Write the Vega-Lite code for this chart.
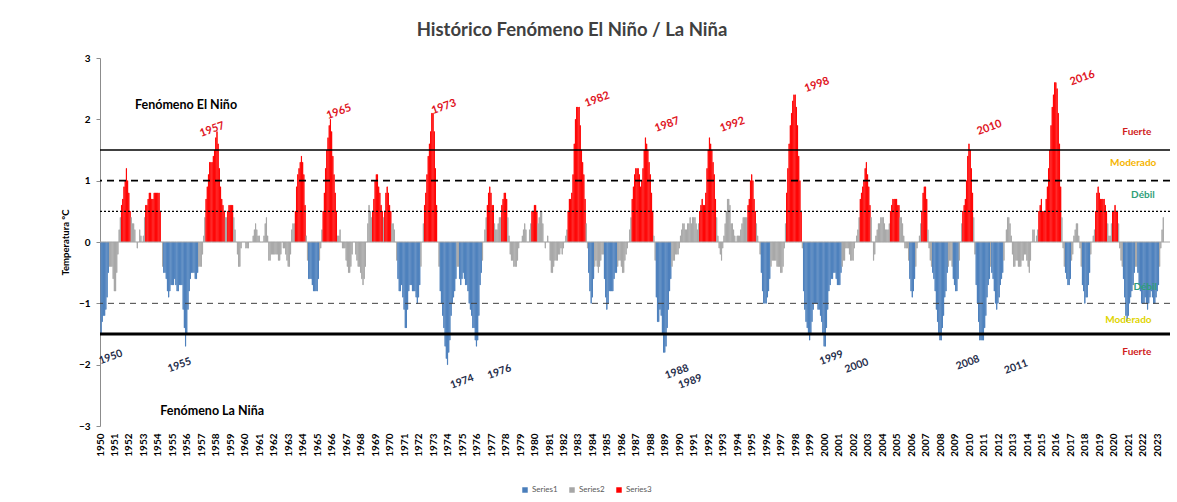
{
"$schema": "https://vega.github.io/schema/vega-lite/v6.json",
"width": 1070, "height": 368,
"autosize": {"type": "none"},
"padding": {"left": 100, "top": 58, "right": 7, "bottom": 76},
"background": "#ffffff",
"config": {"view": {"stroke": null}, "font": "Lato"},
"title": {"text": "Histórico Fenómeno El Niño / La Niña", "fontSize": 18.5, "fontWeight": "bold", "color": "#404040", "font": "Lato", "anchor": "middle", "frame": "group", "offset": 14, "dx": -63},
"datasets": {
"oni": [
{"t":"1950-01","v":-1.5,"s":1},{"t":"1950-02","v":-1.3,"s":1},{"t":"1950-03","v":-1.2,"s":1},{"t":"1950-04","v":-1.2,"s":1},{"t":"1950-05","v":-1.1,"s":1},{"t":"1950-06","v":-0.9,"s":1},{"t":"1950-07","v":-0.5,"s":1},{"t":"1950-08","v":-0.4,"s":2},{"t":"1950-09","v":-0.4,"s":2},{"t":"1950-10","v":-0.4,"s":2},{"t":"1950-11","v":-0.6,"s":2},{"t":"1950-12","v":-0.8,"s":2},
{"t":"1951-01","v":-0.8,"s":2},{"t":"1951-02","v":-0.5,"s":2},{"t":"1951-03","v":-0.2,"s":2},{"t":"1951-04","v":0.2,"s":2},{"t":"1951-05","v":0.4,"s":2},{"t":"1951-06","v":0.6,"s":3},{"t":"1951-07","v":0.7,"s":3},{"t":"1951-08","v":0.9,"s":3},{"t":"1951-09","v":1.0,"s":3},{"t":"1951-10","v":1.2,"s":3},{"t":"1951-11","v":1.0,"s":3},{"t":"1951-12","v":0.8,"s":3},
{"t":"1952-01","v":0.5,"s":3},{"t":"1952-02","v":0.4,"s":2},{"t":"1952-03","v":0.3,"s":2},{"t":"1952-04","v":0.3,"s":2},{"t":"1952-05","v":0.2,"s":2},{"t":"1952-06","v":0,"s":2},{"t":"1952-07","v":-0.1,"s":2},{"t":"1952-08","v":0,"s":2},{"t":"1952-09","v":0.2,"s":2},{"t":"1952-10","v":0.1,"s":2},{"t":"1952-11","v":0,"s":2},{"t":"1952-12","v":0.1,"s":2},
{"t":"1953-01","v":0.4,"s":2},{"t":"1953-02","v":0.6,"s":3},{"t":"1953-03","v":0.6,"s":3},{"t":"1953-04","v":0.7,"s":3},{"t":"1953-05","v":0.8,"s":3},{"t":"1953-06","v":0.8,"s":3},{"t":"1953-07","v":0.7,"s":3},{"t":"1953-08","v":0.7,"s":3},{"t":"1953-09","v":0.8,"s":3},{"t":"1953-10","v":0.8,"s":3},{"t":"1953-11","v":0.8,"s":3},{"t":"1953-12","v":0.8,"s":3},
{"t":"1954-01","v":0.8,"s":3},{"t":"1954-02","v":0.5,"s":3},{"t":"1954-03","v":0,"s":2},{"t":"1954-04","v":-0.4,"s":2},{"t":"1954-05","v":-0.5,"s":1},{"t":"1954-06","v":-0.5,"s":1},{"t":"1954-07","v":-0.6,"s":1},{"t":"1954-08","v":-0.8,"s":1},{"t":"1954-09","v":-0.9,"s":1},{"t":"1954-10","v":-0.8,"s":1},{"t":"1954-11","v":-0.7,"s":1},{"t":"1954-12","v":-0.7,"s":1},
{"t":"1955-01","v":-0.7,"s":1},{"t":"1955-02","v":-0.6,"s":1},{"t":"1955-03","v":-0.7,"s":1},{"t":"1955-04","v":-0.8,"s":1},{"t":"1955-05","v":-0.8,"s":1},{"t":"1955-06","v":-0.7,"s":1},{"t":"1955-07","v":-0.7,"s":1},{"t":"1955-08","v":-0.7,"s":1},{"t":"1955-09","v":-1.1,"s":1},{"t":"1955-10","v":-1.4,"s":1},{"t":"1955-11","v":-1.7,"s":1},{"t":"1955-12","v":-1.5,"s":1},
{"t":"1956-01","v":-1.1,"s":1},{"t":"1956-02","v":-0.8,"s":1},{"t":"1956-03","v":-0.6,"s":1},{"t":"1956-04","v":-0.5,"s":1},{"t":"1956-05","v":-0.5,"s":1},{"t":"1956-06","v":-0.5,"s":1},{"t":"1956-07","v":-0.6,"s":1},{"t":"1956-08","v":-0.6,"s":1},{"t":"1956-09","v":-0.5,"s":1},{"t":"1956-10","v":-0.4,"s":2},{"t":"1956-11","v":-0.4,"s":2},{"t":"1956-12","v":-0.4,"s":2},
{"t":"1957-01","v":-0.2,"s":2},{"t":"1957-02","v":0.1,"s":2},{"t":"1957-03","v":0.4,"s":2},{"t":"1957-04","v":0.7,"s":3},{"t":"1957-05","v":0.9,"s":3},{"t":"1957-06","v":1.1,"s":3},{"t":"1957-07","v":1.3,"s":3},{"t":"1957-08","v":1.3,"s":3},{"t":"1957-09","v":1.3,"s":3},{"t":"1957-10","v":1.4,"s":3},{"t":"1957-11","v":1.5,"s":3},{"t":"1957-12","v":1.7,"s":3},
{"t":"1958-01","v":1.8,"s":3},{"t":"1958-02","v":1.6,"s":3},{"t":"1958-03","v":1.2,"s":3},{"t":"1958-04","v":0.9,"s":3},{"t":"1958-05","v":0.7,"s":3},{"t":"1958-06","v":0.6,"s":3},{"t":"1958-07","v":0.5,"s":3},{"t":"1958-08","v":0.4,"s":2},{"t":"1958-09","v":0.4,"s":2},{"t":"1958-10","v":0.5,"s":3},{"t":"1958-11","v":0.6,"s":3},{"t":"1958-12","v":0.6,"s":3},
{"t":"1959-01","v":0.6,"s":3},{"t":"1959-02","v":0.6,"s":3},{"t":"1959-03","v":0.4,"s":2},{"t":"1959-04","v":0.2,"s":2},{"t":"1959-05","v":0,"s":2},{"t":"1959-06","v":-0.2,"s":2},{"t":"1959-07","v":-0.4,"s":2},{"t":"1959-08","v":-0.4,"s":2},{"t":"1959-09","v":-0.1,"s":2},{"t":"1959-10","v":0,"s":2},{"t":"1959-11","v":0,"s":2},{"t":"1959-12","v":0,"s":2},
{"t":"1960-01","v":-0.1,"s":2},{"t":"1960-02","v":-0.1,"s":2},{"t":"1960-03","v":-0.1,"s":2},{"t":"1960-04","v":0,"s":2},{"t":"1960-05","v":0,"s":2},{"t":"1960-06","v":0,"s":2},{"t":"1960-07","v":0.1,"s":2},{"t":"1960-08","v":0.2,"s":2},{"t":"1960-09","v":0.3,"s":2},{"t":"1960-10","v":0.2,"s":2},{"t":"1960-11","v":0.1,"s":2},{"t":"1960-12","v":0.1,"s":2},
{"t":"1961-01","v":0,"s":2},{"t":"1961-02","v":0,"s":2},{"t":"1961-03","v":0,"s":2},{"t":"1961-04","v":0.1,"s":2},{"t":"1961-05","v":0.3,"s":2},{"t":"1961-06","v":0.4,"s":2},{"t":"1961-07","v":0.1,"s":2},{"t":"1961-08","v":-0.3,"s":2},{"t":"1961-09","v":-0.3,"s":2},{"t":"1961-10","v":-0.2,"s":2},{"t":"1961-11","v":-0.2,"s":2},{"t":"1961-12","v":-0.2,"s":2},
{"t":"1962-01","v":-0.2,"s":2},{"t":"1962-02","v":-0.2,"s":2},{"t":"1962-03","v":-0.2,"s":2},{"t":"1962-04","v":-0.3,"s":2},{"t":"1962-05","v":-0.3,"s":2},{"t":"1962-06","v":-0.2,"s":2},{"t":"1962-07","v":0,"s":2},{"t":"1962-08","v":-0.1,"s":2},{"t":"1962-09","v":-0.1,"s":2},{"t":"1962-10","v":-0.2,"s":2},{"t":"1962-11","v":-0.3,"s":2},{"t":"1962-12","v":-0.4,"s":2},
{"t":"1963-01","v":-0.4,"s":2},{"t":"1963-02","v":-0.2,"s":2},{"t":"1963-03","v":0.2,"s":2},{"t":"1963-04","v":0.3,"s":2},{"t":"1963-05","v":0.3,"s":2},{"t":"1963-06","v":0.5,"s":3},{"t":"1963-07","v":0.9,"s":3},{"t":"1963-08","v":1.1,"s":3},{"t":"1963-09","v":1.2,"s":3},{"t":"1963-10","v":1.3,"s":3},{"t":"1963-11","v":1.4,"s":3},{"t":"1963-12","v":1.3,"s":3},
{"t":"1964-01","v":1.1,"s":3},{"t":"1964-02","v":0.6,"s":3},{"t":"1964-03","v":0.1,"s":2},{"t":"1964-04","v":-0.3,"s":2},{"t":"1964-05","v":-0.6,"s":1},{"t":"1964-06","v":-0.6,"s":1},{"t":"1964-07","v":-0.6,"s":1},{"t":"1964-08","v":-0.7,"s":1},{"t":"1964-09","v":-0.8,"s":1},{"t":"1964-10","v":-0.8,"s":1},{"t":"1964-11","v":-0.8,"s":1},{"t":"1964-12","v":-0.8,"s":1},
{"t":"1965-01","v":-0.6,"s":1},{"t":"1965-02","v":-0.3,"s":2},{"t":"1965-03","v":-0.1,"s":2},{"t":"1965-04","v":0.2,"s":2},{"t":"1965-05","v":0.5,"s":3},{"t":"1965-06","v":0.8,"s":3},{"t":"1965-07","v":1.2,"s":3},{"t":"1965-08","v":1.5,"s":3},{"t":"1965-09","v":1.7,"s":3},{"t":"1965-10","v":1.9,"s":3},{"t":"1965-11","v":2.0,"s":3},{"t":"1965-12","v":1.8,"s":3},
{"t":"1966-01","v":1.4,"s":3},{"t":"1966-02","v":1.1,"s":3},{"t":"1966-03","v":0.8,"s":3},{"t":"1966-04","v":0.5,"s":3},{"t":"1966-05","v":0.1,"s":2},{"t":"1966-06","v":0.1,"s":2},{"t":"1966-07","v":0.2,"s":2},{"t":"1966-08","v":0,"s":2},{"t":"1966-09","v":-0.1,"s":2},{"t":"1966-10","v":-0.1,"s":2},{"t":"1966-11","v":-0.1,"s":2},{"t":"1966-12","v":-0.3,"s":2},
{"t":"1967-01","v":-0.4,"s":2},{"t":"1967-02","v":-0.5,"s":2},{"t":"1967-03","v":-0.5,"s":2},{"t":"1967-04","v":-0.4,"s":2},{"t":"1967-05","v":-0.2,"s":2},{"t":"1967-06","v":0,"s":2},{"t":"1967-07","v":0,"s":2},{"t":"1967-08","v":-0.2,"s":2},{"t":"1967-09","v":-0.3,"s":2},{"t":"1967-10","v":-0.4,"s":2},{"t":"1967-11","v":-0.4,"s":2},{"t":"1967-12","v":-0.5,"s":2},
{"t":"1968-01","v":-0.6,"s":2},{"t":"1968-02","v":-0.7,"s":2},{"t":"1968-03","v":-0.6,"s":2},{"t":"1968-04","v":-0.4,"s":2},{"t":"1968-05","v":0,"s":2},{"t":"1968-06","v":0.3,"s":2},{"t":"1968-07","v":0.6,"s":2},{"t":"1968-08","v":0.5,"s":2},{"t":"1968-09","v":0.4,"s":2},{"t":"1968-10","v":0.5,"s":3},{"t":"1968-11","v":0.7,"s":3},{"t":"1968-12","v":1.0,"s":3},
{"t":"1969-01","v":1.1,"s":3},{"t":"1969-02","v":1.1,"s":3},{"t":"1969-03","v":0.9,"s":3},{"t":"1969-04","v":0.8,"s":3},{"t":"1969-05","v":0.6,"s":3},{"t":"1969-06","v":0.5,"s":3},{"t":"1969-07","v":0.4,"s":2},{"t":"1969-08","v":0.5,"s":3},{"t":"1969-09","v":0.8,"s":3},{"t":"1969-10","v":0.9,"s":3},{"t":"1969-11","v":0.8,"s":3},{"t":"1969-12","v":0.6,"s":3},
{"t":"1970-01","v":0.5,"s":3},{"t":"1970-02","v":0.3,"s":2},{"t":"1970-03","v":0.3,"s":2},{"t":"1970-04","v":0.2,"s":2},{"t":"1970-05","v":0,"s":2},{"t":"1970-06","v":-0.3,"s":2},{"t":"1970-07","v":-0.6,"s":1},{"t":"1970-08","v":-0.8,"s":1},{"t":"1970-09","v":-0.8,"s":1},{"t":"1970-10","v":-0.7,"s":1},{"t":"1970-11","v":-0.9,"s":1},{"t":"1970-12","v":-1.1,"s":1},
{"t":"1971-01","v":-1.4,"s":1},{"t":"1971-02","v":-1.4,"s":1},{"t":"1971-03","v":-1.1,"s":1},{"t":"1971-04","v":-0.8,"s":1},{"t":"1971-05","v":-0.7,"s":1},{"t":"1971-06","v":-0.7,"s":1},{"t":"1971-07","v":-0.8,"s":1},{"t":"1971-08","v":-0.8,"s":1},{"t":"1971-09","v":-0.8,"s":1},{"t":"1971-10","v":-0.9,"s":1},{"t":"1971-11","v":-1.0,"s":1},{"t":"1971-12","v":-0.9,"s":1},
{"t":"1972-01","v":-0.7,"s":1},{"t":"1972-02","v":-0.4,"s":2},{"t":"1972-03","v":0,"s":2},{"t":"1972-04","v":0.3,"s":2},{"t":"1972-05","v":0.6,"s":3},{"t":"1972-06","v":0.8,"s":3},{"t":"1972-07","v":1.1,"s":3},{"t":"1972-08","v":1.4,"s":3},{"t":"1972-09","v":1.6,"s":3},{"t":"1972-10","v":1.8,"s":3},{"t":"1972-11","v":2.1,"s":3},{"t":"1972-12","v":2.1,"s":3},
{"t":"1973-01","v":1.8,"s":3},{"t":"1973-02","v":1.2,"s":3},{"t":"1973-03","v":0.6,"s":3},{"t":"1973-04","v":0,"s":2},{"t":"1973-05","v":-0.4,"s":2},{"t":"1973-06","v":-0.8,"s":1},{"t":"1973-07","v":-1.0,"s":1},{"t":"1973-08","v":-1.2,"s":1},{"t":"1973-09","v":-1.4,"s":1},{"t":"1973-10","v":-1.7,"s":1},{"t":"1973-11","v":-1.9,"s":1},{"t":"1973-12","v":-2.0,"s":1},
{"t":"1974-01","v":-1.8,"s":1},{"t":"1974-02","v":-1.6,"s":1},{"t":"1974-03","v":-1.2,"s":1},{"t":"1974-04","v":-1.0,"s":1},{"t":"1974-05","v":-0.9,"s":1},{"t":"1974-06","v":-0.8,"s":1},{"t":"1974-07","v":-0.6,"s":1},{"t":"1974-08","v":-0.4,"s":2},{"t":"1974-09","v":-0.4,"s":2},{"t":"1974-10","v":-0.6,"s":1},{"t":"1974-11","v":-0.7,"s":1},{"t":"1974-12","v":-0.6,"s":1},
{"t":"1975-01","v":-0.5,"s":1},{"t":"1975-02","v":-0.6,"s":1},{"t":"1975-03","v":-0.7,"s":1},{"t":"1975-04","v":-0.7,"s":1},{"t":"1975-05","v":-0.8,"s":1},{"t":"1975-06","v":-1.0,"s":1},{"t":"1975-07","v":-1.1,"s":1},{"t":"1975-08","v":-1.2,"s":1},{"t":"1975-09","v":-1.4,"s":1},{"t":"1975-10","v":-1.4,"s":1},{"t":"1975-11","v":-1.6,"s":1},{"t":"1975-12","v":-1.7,"s":1},
{"t":"1976-01","v":-1.6,"s":1},{"t":"1976-02","v":-1.2,"s":1},{"t":"1976-03","v":-0.7,"s":1},{"t":"1976-04","v":-0.5,"s":1},{"t":"1976-05","v":-0.3,"s":2},{"t":"1976-06","v":0,"s":2},{"t":"1976-07","v":0.2,"s":2},{"t":"1976-08","v":0.4,"s":2},{"t":"1976-09","v":0.6,"s":3},{"t":"1976-10","v":0.8,"s":3},{"t":"1976-11","v":0.9,"s":3},{"t":"1976-12","v":0.8,"s":3},
{"t":"1977-01","v":0.6,"s":3},{"t":"1977-02","v":0.6,"s":3},{"t":"1977-03","v":0.3,"s":2},{"t":"1977-04","v":0.2,"s":2},{"t":"1977-05","v":0.2,"s":2},{"t":"1977-06","v":0.3,"s":2},{"t":"1977-07","v":0.4,"s":2},{"t":"1977-08","v":0.4,"s":2},{"t":"1977-09","v":0.6,"s":3},{"t":"1977-10","v":0.7,"s":3},{"t":"1977-11","v":0.8,"s":3},{"t":"1977-12","v":0.8,"s":3},
{"t":"1978-01","v":0.7,"s":3},{"t":"1978-02","v":0.4,"s":2},{"t":"1978-03","v":0.1,"s":2},{"t":"1978-04","v":-0.2,"s":2},{"t":"1978-05","v":-0.3,"s":2},{"t":"1978-06","v":-0.3,"s":2},{"t":"1978-07","v":-0.4,"s":2},{"t":"1978-08","v":-0.4,"s":2},{"t":"1978-09","v":-0.4,"s":2},{"t":"1978-10","v":-0.3,"s":2},{"t":"1978-11","v":-0.1,"s":2},{"t":"1978-12","v":0,"s":2},
{"t":"1979-01","v":0,"s":2},{"t":"1979-02","v":0.1,"s":2},{"t":"1979-03","v":0.2,"s":2},{"t":"1979-04","v":0.3,"s":2},{"t":"1979-05","v":0.2,"s":2},{"t":"1979-06","v":0,"s":2},{"t":"1979-07","v":0,"s":2},{"t":"1979-08","v":0.2,"s":2},{"t":"1979-09","v":0.3,"s":2},{"t":"1979-10","v":0.5,"s":3},{"t":"1979-11","v":0.5,"s":3},{"t":"1979-12","v":0.6,"s":3},
{"t":"1980-01","v":0.6,"s":3},{"t":"1980-02","v":0.5,"s":3},{"t":"1980-03","v":0.3,"s":2},{"t":"1980-04","v":0.4,"s":2},{"t":"1980-05","v":0.5,"s":2},{"t":"1980-06","v":0.5,"s":2},{"t":"1980-07","v":0.3,"s":2},{"t":"1980-08","v":0,"s":2},{"t":"1980-09","v":-0.1,"s":2},{"t":"1980-10","v":0,"s":2},{"t":"1980-11","v":0.1,"s":2},{"t":"1980-12","v":0,"s":2},
{"t":"1981-01","v":-0.3,"s":2},{"t":"1981-02","v":-0.5,"s":2},{"t":"1981-03","v":-0.5,"s":2},{"t":"1981-04","v":-0.4,"s":2},{"t":"1981-05","v":-0.3,"s":2},{"t":"1981-06","v":-0.3,"s":2},{"t":"1981-07","v":-0.3,"s":2},{"t":"1981-08","v":-0.2,"s":2},{"t":"1981-09","v":-0.2,"s":2},{"t":"1981-10","v":-0.1,"s":2},{"t":"1981-11","v":-0.2,"s":2},{"t":"1981-12","v":-0.1,"s":2},
{"t":"1982-01","v":0,"s":2},{"t":"1982-02","v":0.1,"s":2},{"t":"1982-03","v":0.2,"s":2},{"t":"1982-04","v":0.5,"s":3},{"t":"1982-05","v":0.7,"s":3},{"t":"1982-06","v":0.7,"s":3},{"t":"1982-07","v":0.8,"s":3},{"t":"1982-08","v":1.1,"s":3},{"t":"1982-09","v":1.6,"s":3},{"t":"1982-10","v":2.0,"s":3},{"t":"1982-11","v":2.2,"s":3},{"t":"1982-12","v":2.2,"s":3},
{"t":"1983-01","v":2.2,"s":3},{"t":"1983-02","v":1.9,"s":3},{"t":"1983-03","v":1.5,"s":3},{"t":"1983-04","v":1.3,"s":3},{"t":"1983-05","v":1.1,"s":3},{"t":"1983-06","v":0.7,"s":3},{"t":"1983-07","v":0.3,"s":2},{"t":"1983-08","v":-0.1,"s":2},{"t":"1983-09","v":-0.5,"s":1},{"t":"1983-10","v":-0.8,"s":1},{"t":"1983-11","v":-1.0,"s":1},{"t":"1983-12","v":-0.9,"s":1},
{"t":"1984-01","v":-0.6,"s":1},{"t":"1984-02","v":-0.4,"s":2},{"t":"1984-03","v":-0.3,"s":2},{"t":"1984-04","v":-0.4,"s":2},{"t":"1984-05","v":-0.5,"s":2},{"t":"1984-06","v":-0.4,"s":2},{"t":"1984-07","v":-0.3,"s":2},{"t":"1984-08","v":-0.2,"s":2},{"t":"1984-09","v":-0.2,"s":2},{"t":"1984-10","v":-0.6,"s":1},{"t":"1984-11","v":-0.9,"s":1},{"t":"1984-12","v":-1.1,"s":1},
{"t":"1985-01","v":-1.0,"s":1},{"t":"1985-02","v":-0.8,"s":1},{"t":"1985-03","v":-0.8,"s":1},{"t":"1985-04","v":-0.8,"s":1},{"t":"1985-05","v":-0.8,"s":1},{"t":"1985-06","v":-0.6,"s":1},{"t":"1985-07","v":-0.5,"s":1},{"t":"1985-08","v":-0.5,"s":1},{"t":"1985-09","v":-0.4,"s":2},{"t":"1985-10","v":-0.3,"s":2},{"t":"1985-11","v":-0.3,"s":2},{"t":"1985-12","v":-0.4,"s":2},
{"t":"1986-01","v":-0.5,"s":2},{"t":"1986-02","v":-0.5,"s":2},{"t":"1986-03","v":-0.3,"s":2},{"t":"1986-04","v":-0.2,"s":2},{"t":"1986-05","v":-0.1,"s":2},{"t":"1986-06","v":0,"s":2},{"t":"1986-07","v":0.2,"s":2},{"t":"1986-08","v":0.4,"s":2},{"t":"1986-09","v":0.7,"s":3},{"t":"1986-10","v":0.9,"s":3},{"t":"1986-11","v":1.1,"s":3},{"t":"1986-12","v":1.2,"s":3},
{"t":"1987-01","v":1.2,"s":3},{"t":"1987-02","v":1.2,"s":3},{"t":"1987-03","v":1.1,"s":3},{"t":"1987-04","v":0.9,"s":3},{"t":"1987-05","v":1.0,"s":3},{"t":"1987-06","v":1.2,"s":3},{"t":"1987-07","v":1.5,"s":3},{"t":"1987-08","v":1.7,"s":3},{"t":"1987-09","v":1.6,"s":3},{"t":"1987-10","v":1.5,"s":3},{"t":"1987-11","v":1.3,"s":3},{"t":"1987-12","v":1.1,"s":3},
{"t":"1988-01","v":0.8,"s":3},{"t":"1988-02","v":0.5,"s":3},{"t":"1988-03","v":0.1,"s":2},{"t":"1988-04","v":-0.3,"s":2},{"t":"1988-05","v":-0.9,"s":1},{"t":"1988-06","v":-1.3,"s":1},{"t":"1988-07","v":-1.3,"s":1},{"t":"1988-08","v":-1.1,"s":1},{"t":"1988-09","v":-1.2,"s":1},{"t":"1988-10","v":-1.5,"s":1},{"t":"1988-11","v":-1.8,"s":1},{"t":"1988-12","v":-1.8,"s":1},
{"t":"1989-01","v":-1.7,"s":1},{"t":"1989-02","v":-1.4,"s":1},{"t":"1989-03","v":-1.1,"s":1},{"t":"1989-04","v":-0.8,"s":1},{"t":"1989-05","v":-0.6,"s":1},{"t":"1989-06","v":-0.4,"s":2},{"t":"1989-07","v":-0.3,"s":2},{"t":"1989-08","v":-0.3,"s":2},{"t":"1989-09","v":-0.2,"s":2},{"t":"1989-10","v":-0.2,"s":2},{"t":"1989-11","v":-0.2,"s":2},{"t":"1989-12","v":-0.1,"s":2},
{"t":"1990-01","v":0.1,"s":2},{"t":"1990-02","v":0.2,"s":2},{"t":"1990-03","v":0.3,"s":2},{"t":"1990-04","v":0.3,"s":2},{"t":"1990-05","v":0.2,"s":2},{"t":"1990-06","v":0.2,"s":2},{"t":"1990-07","v":0.3,"s":2},{"t":"1990-08","v":0.3,"s":2},{"t":"1990-09","v":0.4,"s":2},{"t":"1990-10","v":0.3,"s":2},{"t":"1990-11","v":0.4,"s":2},{"t":"1990-12","v":0.4,"s":2},
{"t":"1991-01","v":0.4,"s":2},{"t":"1991-02","v":0.3,"s":2},{"t":"1991-03","v":0.2,"s":2},{"t":"1991-04","v":0.3,"s":2},{"t":"1991-05","v":0.5,"s":3},{"t":"1991-06","v":0.6,"s":3},{"t":"1991-07","v":0.7,"s":3},{"t":"1991-08","v":0.6,"s":3},{"t":"1991-09","v":0.6,"s":3},{"t":"1991-10","v":0.8,"s":3},{"t":"1991-11","v":1.2,"s":3},{"t":"1991-12","v":1.5,"s":3},
{"t":"1992-01","v":1.7,"s":3},{"t":"1992-02","v":1.6,"s":3},{"t":"1992-03","v":1.5,"s":3},{"t":"1992-04","v":1.3,"s":3},{"t":"1992-05","v":1.1,"s":3},{"t":"1992-06","v":0.7,"s":3},{"t":"1992-07","v":0.4,"s":2},{"t":"1992-08","v":0.1,"s":2},{"t":"1992-09","v":-0.1,"s":2},{"t":"1992-10","v":-0.2,"s":2},{"t":"1992-11","v":-0.3,"s":2},{"t":"1992-12","v":-0.1,"s":2},
{"t":"1993-01","v":0.1,"s":2},{"t":"1993-02","v":0.3,"s":2},{"t":"1993-03","v":0.5,"s":2},{"t":"1993-04","v":0.7,"s":2},{"t":"1993-05","v":0.7,"s":2},{"t":"1993-06","v":0.6,"s":2},{"t":"1993-07","v":0.3,"s":2},{"t":"1993-08","v":0.3,"s":2},{"t":"1993-09","v":0.2,"s":2},{"t":"1993-10","v":0.1,"s":2},{"t":"1993-11","v":0,"s":2},{"t":"1993-12","v":0.1,"s":2},
{"t":"1994-01","v":0.1,"s":2},{"t":"1994-02","v":0.1,"s":2},{"t":"1994-03","v":0.2,"s":2},{"t":"1994-04","v":0.3,"s":2},{"t":"1994-05","v":0.4,"s":2},{"t":"1994-06","v":0.4,"s":2},{"t":"1994-07","v":0.4,"s":2},{"t":"1994-08","v":0.4,"s":2},{"t":"1994-09","v":0.6,"s":3},{"t":"1994-10","v":0.7,"s":3},{"t":"1994-11","v":1.0,"s":3},{"t":"1994-12","v":1.1,"s":3},
{"t":"1995-01","v":1.0,"s":3},{"t":"1995-02","v":0.7,"s":3},{"t":"1995-03","v":0.5,"s":3},{"t":"1995-04","v":0.3,"s":2},{"t":"1995-05","v":0.1,"s":2},{"t":"1995-06","v":0,"s":2},{"t":"1995-07","v":-0.2,"s":2},{"t":"1995-08","v":-0.5,"s":1},{"t":"1995-09","v":-0.8,"s":1},{"t":"1995-10","v":-1.0,"s":1},{"t":"1995-11","v":-1.0,"s":1},{"t":"1995-12","v":-1.0,"s":1},
{"t":"1996-01","v":-0.9,"s":1},{"t":"1996-02","v":-0.8,"s":1},{"t":"1996-03","v":-0.6,"s":1},{"t":"1996-04","v":-0.4,"s":2},{"t":"1996-05","v":-0.3,"s":2},{"t":"1996-06","v":-0.3,"s":2},{"t":"1996-07","v":-0.3,"s":2},{"t":"1996-08","v":-0.3,"s":2},{"t":"1996-09","v":-0.4,"s":2},{"t":"1996-10","v":-0.4,"s":2},{"t":"1996-11","v":-0.4,"s":2},{"t":"1996-12","v":-0.5,"s":2},
{"t":"1997-01","v":-0.5,"s":2},{"t":"1997-02","v":-0.4,"s":2},{"t":"1997-03","v":-0.1,"s":2},{"t":"1997-04","v":0.3,"s":2},{"t":"1997-05","v":0.8,"s":3},{"t":"1997-06","v":1.2,"s":3},{"t":"1997-07","v":1.6,"s":3},{"t":"1997-08","v":1.9,"s":3},{"t":"1997-09","v":2.1,"s":3},{"t":"1997-10","v":2.3,"s":3},{"t":"1997-11","v":2.4,"s":3},{"t":"1997-12","v":2.4,"s":3},
{"t":"1998-01","v":2.2,"s":3},{"t":"1998-02","v":1.9,"s":3},{"t":"1998-03","v":1.4,"s":3},{"t":"1998-04","v":1.0,"s":3},{"t":"1998-05","v":0.5,"s":3},{"t":"1998-06","v":-0.1,"s":2},{"t":"1998-07","v":-0.8,"s":1},{"t":"1998-08","v":-1.1,"s":1},{"t":"1998-09","v":-1.3,"s":1},{"t":"1998-10","v":-1.4,"s":1},{"t":"1998-11","v":-1.5,"s":1},{"t":"1998-12","v":-1.6,"s":1},
{"t":"1999-01","v":-1.5,"s":1},{"t":"1999-02","v":-1.3,"s":1},{"t":"1999-03","v":-1.1,"s":1},{"t":"1999-04","v":-1.0,"s":1},{"t":"1999-05","v":-1.0,"s":1},{"t":"1999-06","v":-1.0,"s":1},{"t":"1999-07","v":-1.1,"s":1},{"t":"1999-08","v":-1.1,"s":1},{"t":"1999-09","v":-1.2,"s":1},{"t":"1999-10","v":-1.3,"s":1},{"t":"1999-11","v":-1.5,"s":1},{"t":"1999-12","v":-1.7,"s":1},
{"t":"2000-01","v":-1.7,"s":1},{"t":"2000-02","v":-1.4,"s":1},{"t":"2000-03","v":-1.1,"s":1},{"t":"2000-04","v":-0.8,"s":1},{"t":"2000-05","v":-0.7,"s":1},{"t":"2000-06","v":-0.6,"s":1},{"t":"2000-07","v":-0.6,"s":1},{"t":"2000-08","v":-0.5,"s":1},{"t":"2000-09","v":-0.5,"s":1},{"t":"2000-10","v":-0.6,"s":1},{"t":"2000-11","v":-0.7,"s":1},{"t":"2000-12","v":-0.7,"s":1},
{"t":"2001-01","v":-0.7,"s":1},{"t":"2001-02","v":-0.5,"s":1},{"t":"2001-03","v":-0.4,"s":2},{"t":"2001-04","v":-0.3,"s":2},{"t":"2001-05","v":-0.3,"s":2},{"t":"2001-06","v":-0.1,"s":2},{"t":"2001-07","v":-0.1,"s":2},{"t":"2001-08","v":-0.1,"s":2},{"t":"2001-09","v":-0.2,"s":2},{"t":"2001-10","v":-0.3,"s":2},{"t":"2001-11","v":-0.3,"s":2},{"t":"2001-12","v":-0.3,"s":2},
{"t":"2002-01","v":-0.1,"s":2},{"t":"2002-02","v":0,"s":2},{"t":"2002-03","v":0.1,"s":2},{"t":"2002-04","v":0.2,"s":2},{"t":"2002-05","v":0.4,"s":2},{"t":"2002-06","v":0.7,"s":3},{"t":"2002-07","v":0.8,"s":3},{"t":"2002-08","v":0.9,"s":3},{"t":"2002-09","v":1.0,"s":3},{"t":"2002-10","v":1.2,"s":3},{"t":"2002-11","v":1.3,"s":3},{"t":"2002-12","v":1.1,"s":3},
{"t":"2003-01","v":0.9,"s":3},{"t":"2003-02","v":0.6,"s":3},{"t":"2003-03","v":0.4,"s":2},{"t":"2003-04","v":0,"s":2},{"t":"2003-05","v":-0.3,"s":2},{"t":"2003-06","v":-0.2,"s":2},{"t":"2003-07","v":0.1,"s":2},{"t":"2003-08","v":0.2,"s":2},{"t":"2003-09","v":0.3,"s":2},{"t":"2003-10","v":0.3,"s":2},{"t":"2003-11","v":0.4,"s":2},{"t":"2003-12","v":0.4,"s":2},
{"t":"2004-01","v":0.4,"s":2},{"t":"2004-02","v":0.3,"s":2},{"t":"2004-03","v":0.2,"s":2},{"t":"2004-04","v":0.2,"s":2},{"t":"2004-05","v":0.2,"s":2},{"t":"2004-06","v":0.3,"s":2},{"t":"2004-07","v":0.5,"s":3},{"t":"2004-08","v":0.6,"s":3},{"t":"2004-09","v":0.7,"s":3},{"t":"2004-10","v":0.7,"s":3},{"t":"2004-11","v":0.7,"s":3},{"t":"2004-12","v":0.7,"s":3},
{"t":"2005-01","v":0.6,"s":3},{"t":"2005-02","v":0.6,"s":3},{"t":"2005-03","v":0.4,"s":2},{"t":"2005-04","v":0.4,"s":2},{"t":"2005-05","v":0.3,"s":2},{"t":"2005-06","v":0.1,"s":2},{"t":"2005-07","v":-0.1,"s":2},{"t":"2005-08","v":-0.1,"s":2},{"t":"2005-09","v":-0.1,"s":2},{"t":"2005-10","v":-0.3,"s":2},{"t":"2005-11","v":-0.6,"s":1},{"t":"2005-12","v":-0.8,"s":1},
{"t":"2006-01","v":-0.9,"s":1},{"t":"2006-02","v":-0.8,"s":1},{"t":"2006-03","v":-0.6,"s":1},{"t":"2006-04","v":-0.4,"s":2},{"t":"2006-05","v":-0.1,"s":2},{"t":"2006-06","v":0,"s":2},{"t":"2006-07","v":0.1,"s":2},{"t":"2006-08","v":0.3,"s":2},{"t":"2006-09","v":0.5,"s":3},{"t":"2006-10","v":0.8,"s":3},{"t":"2006-11","v":0.9,"s":3},{"t":"2006-12","v":0.9,"s":3},
{"t":"2007-01","v":0.7,"s":3},{"t":"2007-02","v":0.2,"s":2},{"t":"2007-03","v":-0.1,"s":2},{"t":"2007-04","v":-0.3,"s":2},{"t":"2007-05","v":-0.4,"s":2},{"t":"2007-06","v":-0.5,"s":1},{"t":"2007-07","v":-0.6,"s":1},{"t":"2007-08","v":-0.8,"s":1},{"t":"2007-09","v":-1.1,"s":1},{"t":"2007-10","v":-1.3,"s":1},{"t":"2007-11","v":-1.5,"s":1},{"t":"2007-12","v":-1.6,"s":1},
{"t":"2008-01","v":-1.6,"s":1},{"t":"2008-02","v":-1.4,"s":1},{"t":"2008-03","v":-1.2,"s":1},{"t":"2008-04","v":-0.9,"s":1},{"t":"2008-05","v":-0.8,"s":1},{"t":"2008-06","v":-0.5,"s":1},{"t":"2008-07","v":-0.4,"s":2},{"t":"2008-08","v":-0.3,"s":2},{"t":"2008-09","v":-0.3,"s":2},{"t":"2008-10","v":-0.4,"s":2},{"t":"2008-11","v":-0.6,"s":1},{"t":"2008-12","v":-0.7,"s":1},
{"t":"2009-01","v":-0.8,"s":1},{"t":"2009-02","v":-0.8,"s":1},{"t":"2009-03","v":-0.6,"s":1},{"t":"2009-04","v":-0.3,"s":2},{"t":"2009-05","v":0,"s":2},{"t":"2009-06","v":0.3,"s":2},{"t":"2009-07","v":0.5,"s":3},{"t":"2009-08","v":0.6,"s":3},{"t":"2009-09","v":0.7,"s":3},{"t":"2009-10","v":1.0,"s":3},{"t":"2009-11","v":1.4,"s":3},{"t":"2009-12","v":1.6,"s":3},
{"t":"2010-01","v":1.5,"s":3},{"t":"2010-02","v":1.2,"s":3},{"t":"2010-03","v":0.8,"s":3},{"t":"2010-04","v":0.4,"s":2},{"t":"2010-05","v":-0.2,"s":2},{"t":"2010-06","v":-0.7,"s":1},{"t":"2010-07","v":-1.0,"s":1},{"t":"2010-08","v":-1.3,"s":1},{"t":"2010-09","v":-1.6,"s":1},{"t":"2010-10","v":-1.6,"s":1},{"t":"2010-11","v":-1.6,"s":1},{"t":"2010-12","v":-1.6,"s":1},
{"t":"2011-01","v":-1.4,"s":1},{"t":"2011-02","v":-1.2,"s":1},{"t":"2011-03","v":-0.9,"s":1},{"t":"2011-04","v":-0.7,"s":1},{"t":"2011-05","v":-0.6,"s":1},{"t":"2011-06","v":-0.4,"s":2},{"t":"2011-07","v":-0.5,"s":1},{"t":"2011-08","v":-0.6,"s":1},{"t":"2011-09","v":-0.8,"s":1},{"t":"2011-10","v":-1.0,"s":1},{"t":"2011-11","v":-1.1,"s":1},{"t":"2011-12","v":-1.0,"s":1},
{"t":"2012-01","v":-0.9,"s":1},{"t":"2012-02","v":-0.7,"s":1},{"t":"2012-03","v":-0.6,"s":1},{"t":"2012-04","v":-0.5,"s":1},{"t":"2012-05","v":-0.3,"s":2},{"t":"2012-06","v":0,"s":2},{"t":"2012-07","v":0.2,"s":2},{"t":"2012-08","v":0.4,"s":2},{"t":"2012-09","v":0.4,"s":2},{"t":"2012-10","v":0.3,"s":2},{"t":"2012-11","v":0.1,"s":2},{"t":"2012-12","v":-0.2,"s":2},
{"t":"2013-01","v":-0.4,"s":2},{"t":"2013-02","v":-0.4,"s":2},{"t":"2013-03","v":-0.3,"s":2},{"t":"2013-04","v":-0.3,"s":2},{"t":"2013-05","v":-0.4,"s":2},{"t":"2013-06","v":-0.4,"s":2},{"t":"2013-07","v":-0.4,"s":2},{"t":"2013-08","v":-0.3,"s":2},{"t":"2013-09","v":-0.3,"s":2},{"t":"2013-10","v":-0.2,"s":2},{"t":"2013-11","v":-0.2,"s":2},{"t":"2013-12","v":-0.3,"s":2},
{"t":"2014-01","v":-0.4,"s":2},{"t":"2014-02","v":-0.5,"s":2},{"t":"2014-03","v":-0.3,"s":2},{"t":"2014-04","v":0,"s":2},{"t":"2014-05","v":0.2,"s":2},{"t":"2014-06","v":0.2,"s":2},{"t":"2014-07","v":0,"s":2},{"t":"2014-08","v":0.1,"s":2},{"t":"2014-09","v":0.2,"s":2},{"t":"2014-10","v":0.5,"s":3},{"t":"2014-11","v":0.6,"s":3},{"t":"2014-12","v":0.7,"s":3},
{"t":"2015-01","v":0.5,"s":3},{"t":"2015-02","v":0.5,"s":3},{"t":"2015-03","v":0.5,"s":3},{"t":"2015-04","v":0.7,"s":3},{"t":"2015-05","v":0.9,"s":3},{"t":"2015-06","v":1.2,"s":3},{"t":"2015-07","v":1.5,"s":3},{"t":"2015-08","v":1.9,"s":3},{"t":"2015-09","v":2.2,"s":3},{"t":"2015-10","v":2.4,"s":3},{"t":"2015-11","v":2.6,"s":3},{"t":"2015-12","v":2.6,"s":3},
{"t":"2016-01","v":2.5,"s":3},{"t":"2016-02","v":2.1,"s":3},{"t":"2016-03","v":1.6,"s":3},{"t":"2016-04","v":0.9,"s":3},{"t":"2016-05","v":0.4,"s":2},{"t":"2016-06","v":-0.1,"s":2},{"t":"2016-07","v":-0.4,"s":2},{"t":"2016-08","v":-0.5,"s":1},{"t":"2016-09","v":-0.6,"s":1},{"t":"2016-10","v":-0.7,"s":1},{"t":"2016-11","v":-0.7,"s":1},{"t":"2016-12","v":-0.6,"s":1},
{"t":"2017-01","v":-0.3,"s":2},{"t":"2017-02","v":-0.2,"s":2},{"t":"2017-03","v":0.1,"s":2},{"t":"2017-04","v":0.2,"s":2},{"t":"2017-05","v":0.3,"s":2},{"t":"2017-06","v":0.3,"s":2},{"t":"2017-07","v":0.1,"s":2},{"t":"2017-08","v":-0.1,"s":2},{"t":"2017-09","v":-0.4,"s":2},{"t":"2017-10","v":-0.7,"s":1},{"t":"2017-11","v":-0.8,"s":1},{"t":"2017-12","v":-1.0,"s":1},
{"t":"2018-01","v":-0.9,"s":1},{"t":"2018-02","v":-0.9,"s":1},{"t":"2018-03","v":-0.7,"s":1},{"t":"2018-04","v":-0.5,"s":1},{"t":"2018-05","v":-0.2,"s":2},{"t":"2018-06","v":0,"s":2},{"t":"2018-07","v":0.1,"s":2},{"t":"2018-08","v":0.2,"s":2},{"t":"2018-09","v":0.5,"s":3},{"t":"2018-10","v":0.8,"s":3},{"t":"2018-11","v":0.9,"s":3},{"t":"2018-12","v":0.8,"s":3},
{"t":"2019-01","v":0.7,"s":3},{"t":"2019-02","v":0.7,"s":3},{"t":"2019-03","v":0.7,"s":3},{"t":"2019-04","v":0.7,"s":3},{"t":"2019-05","v":0.6,"s":3},{"t":"2019-06","v":0.5,"s":3},{"t":"2019-07","v":0.3,"s":2},{"t":"2019-08","v":0.1,"s":2},{"t":"2019-09","v":0.1,"s":2},{"t":"2019-10","v":0.3,"s":2},{"t":"2019-11","v":0.5,"s":3},{"t":"2019-12","v":0.5,"s":3},
{"t":"2020-01","v":0.6,"s":3},{"t":"2020-02","v":0.5,"s":3},{"t":"2020-03","v":0.5,"s":3},{"t":"2020-04","v":0.3,"s":2},{"t":"2020-05","v":-0.1,"s":2},{"t":"2020-06","v":-0.3,"s":2},{"t":"2020-07","v":-0.4,"s":2},{"t":"2020-08","v":-0.6,"s":1},{"t":"2020-09","v":-0.9,"s":1},{"t":"2020-10","v":-1.2,"s":1},{"t":"2020-11","v":-1.3,"s":1},{"t":"2020-12","v":-1.2,"s":1},
{"t":"2021-01","v":-1.0,"s":1},{"t":"2021-02","v":-0.9,"s":1},{"t":"2021-03","v":-0.8,"s":1},{"t":"2021-04","v":-0.7,"s":1},{"t":"2021-05","v":-0.5,"s":1},{"t":"2021-06","v":-0.4,"s":2},{"t":"2021-07","v":-0.4,"s":2},{"t":"2021-08","v":-0.5,"s":1},{"t":"2021-09","v":-0.7,"s":1},{"t":"2021-10","v":-0.8,"s":1},{"t":"2021-11","v":-1.0,"s":1},{"t":"2021-12","v":-1.0,"s":1},
{"t":"2022-01","v":-1.0,"s":1},{"t":"2022-02","v":-0.9,"s":1},{"t":"2022-03","v":-1.0,"s":1},{"t":"2022-04","v":-1.1,"s":1},{"t":"2022-05","v":-1.0,"s":1},{"t":"2022-06","v":-0.9,"s":1},{"t":"2022-07","v":-0.8,"s":1},{"t":"2022-08","v":-0.9,"s":1},{"t":"2022-09","v":-1.0,"s":1},{"t":"2022-10","v":-1.0,"s":1},{"t":"2022-11","v":-0.9,"s":1},{"t":"2022-12","v":-0.8,"s":1},
{"t":"2023-01","v":-0.7,"s":1},{"t":"2023-02","v":-0.4,"s":2},{"t":"2023-03","v":-0.1,"s":2},{"t":"2023-04","v":0.2,"s":2},{"t":"2023-05","v":0.4,"s":2}
],
"redlab": [{"t":"1957-10","v":1.83,"l":"1957"},{"t":"1966-07","v":2.12,"l":"1965"},{"t":"1973-10","v":2.2,"l":"1973"},{"t":"1984-05","v":2.32,"l":"1982"},{"t":"1989-03","v":1.91,"l":"1987"},{"t":"1993-09","v":1.91,"l":"1992"},{"t":"1999-07","v":2.56,"l":"1998"},{"t":"2011-06","v":1.86,"l":"2010"},{"t":"2017-11","v":2.67,"l":"2016"}],
"bluelab": [{"t":"1950-10","v":-1.88,"l":"1950"},{"t":"1955-07","v":-2.01,"l":"1955"},{"t":"1975-01","v":-2.28,"l":"1974"},{"t":"1977-08","v":-2.12,"l":"1976"},{"t":"1989-11","v":-2.12,"l":"1988"},{"t":"1990-10","v":-2.28,"l":"1989"},{"t":"2000-07","v":-1.89,"l":"1999"},{"t":"2002-04","v":-2.02,"l":"2000"},{"t":"2009-12","v":-1.97,"l":"2008"},{"t":"2013-04","v":-2.04,"l":"2011"}],
"phen": [{"t":"1952-06","v":2.23,"l":"Fenómeno El Niño"},{"t":"1954-03","v":-2.76,"l":"Fenómeno La Niña"}],
"fuerte": [{"t":"2021-08","v":1.79,"l":"Fuerte"},{"t":"2021-08","v":-1.79,"l":"Fuerte"}],
"modup": [{"t":"2021-05","v":1.29,"l":"Moderado"}],
"moddn": [{"t":"2021-01","v":-1.27,"l":"Moderado"}],
"debil": [{"t":"2022-01","v":0.77,"l":"Débil"},{"t":"2022-03","v":-0.73,"l":"Débil"}]
},
"layer": [
{"data": {"name": "oni"},
 "mark": {"type": "bar", "strokeWidth": 0.9},
 "encoding": {
  "x": {"field": "t", "timeUnit": "utcyearmonth", "type": "temporal",
        "scale": {"type": "utc", "nice": false, "domain": [{"year": 1950, "month": 1, "date": 1, "utc": true}, {"year": 2023, "month": 11, "date": 15, "utc": true}]},
        "axis": {"title": null, "format": "%Y", "tickCount": {"interval": "year", "step": 1}, "labelAngle": -90, "labelFontSize": 10, "labelFontWeight": "bold", "labelColor": "#000000", "labelFont": "Lato", "domain": false, "ticks": false, "grid": false, "labelPadding": 7, "labelOverlap": false, "labelFlush": false, "labelBound": false}},
  "y": {"field": "v", "type": "quantitative",
        "scale": {"domain": [-3, 3], "nice": false, "zero": true},
        "axis": {"values": [-3, -2, -1, 0, 1, 2, 3], "format": "d", "title": "Temperatura °C", "titleFontSize": 9.5, "titleFontWeight": "bold", "titleColor": "#000000", "titleFont": "Lato", "titlePadding": 8, "labelFontSize": 10, "labelFontWeight": "bold", "labelColor": "#000000", "labelFont": "Lato", "labelPadding": 6, "domainColor": "#8c8c8c", "tickColor": "#8c8c8c", "tickSize": 4, "grid": false}},
  "color": {"field": "s", "type": "nominal",
        "scale": {"domain": [1, 2, 3], "range": ["#4a7ebb", "#a6a6a6", "#ff0000"]},
        "legend": {"orient": "none", "legendX": 421, "legendY": 428, "direction": "horizontal", "title": null, "labelExpr": "'Series' + datum.label", "symbolType": "square", "symbolSize": 30, "symbolStrokeWidth": 0, "labelFontSize": 8, "labelColor": "#595959", "labelFont": "Lato", "columnPadding": 10, "labelOffset": 3}},
  "stroke": {"field": "s", "type": "nominal",
        "scale": {"domain": [1, 2, 3], "range": ["#4a7ebb", "#a6a6a6", "#ff0000"]},
        "legend": null}
 }},
{"data": {"values": [{"v": 0}]}, "mark": {"type": "rule", "color": "#a6a6a6", "strokeWidth": 1}, "encoding": {"y": {"field": "v", "type": "quantitative"}}},
{"data": {"values": [{"v": 1.5}]}, "mark": {"type": "rule", "color": "#000000", "strokeWidth": 1.6}, "encoding": {"y": {"field": "v", "type": "quantitative"}}},
{"data": {"values": [{"v": 1}]}, "mark": {"type": "rule", "color": "#000000", "strokeWidth": 1.6, "strokeDash": [7, 5]}, "encoding": {"y": {"field": "v", "type": "quantitative"}}},
{"data": {"values": [{"v": 0.5}]}, "mark": {"type": "rule", "color": "#000000", "strokeWidth": 1.3, "strokeDash": [2, 2]}, "encoding": {"y": {"field": "v", "type": "quantitative"}}},
{"data": {"values": [{"v": -1}]}, "mark": {"type": "rule", "color": "#404040", "strokeWidth": 1, "strokeDash": [6, 5]}, "encoding": {"y": {"field": "v", "type": "quantitative"}}},
{"data": {"values": [{"v": -1.5}]}, "mark": {"type": "rule", "color": "#000000", "strokeWidth": 3}, "encoding": {"y": {"field": "v", "type": "quantitative"}}},
{"data": {"name": "redlab"}, "mark": {"type": "text", "color": "#e0141e", "fontSize": 11, "fontWeight": "bold", "font": "Lato", "angle": 340, "align": "center", "baseline": "middle"},
 "encoding": {"x": {"field": "t", "timeUnit": "utcyearmonth", "type": "temporal"}, "y": {"field": "v", "type": "quantitative"}, "text": {"field": "l"}}},
{"data": {"name": "bluelab"}, "mark": {"type": "text", "color": "#1f2d4a", "fontSize": 10.5, "fontWeight": "bold", "font": "Lato", "angle": 340, "align": "center", "baseline": "middle"},
 "encoding": {"x": {"field": "t", "timeUnit": "utcyearmonth", "type": "temporal"}, "y": {"field": "v", "type": "quantitative"}, "text": {"field": "l"}}},
{"data": {"name": "phen"}, "mark": {"type": "text", "color": "#000000", "fontSize": 12.5, "fontWeight": "bold", "font": "Lato", "align": "left", "baseline": "middle"},
 "encoding": {"x": {"field": "t", "timeUnit": "utcyearmonth", "type": "temporal"}, "y": {"field": "v", "type": "quantitative"}, "text": {"field": "l"}}},
{"data": {"name": "fuerte"}, "mark": {"type": "text", "color": "#d01c1c", "fontSize": 10, "fontWeight": "bold", "font": "Lato", "align": "center", "baseline": "middle"},
 "encoding": {"x": {"field": "t", "timeUnit": "utcyearmonth", "type": "temporal"}, "y": {"field": "v", "type": "quantitative"}, "text": {"field": "l"}}},
{"data": {"name": "modup"}, "mark": {"type": "text", "color": "#f5b400", "fontSize": 10, "fontWeight": "bold", "font": "Lato", "align": "center", "baseline": "middle"},
 "encoding": {"x": {"field": "t", "timeUnit": "utcyearmonth", "type": "temporal"}, "y": {"field": "v", "type": "quantitative"}, "text": {"field": "l"}}},
{"data": {"name": "moddn"}, "mark": {"type": "text", "color": "#e0d400", "fontSize": 10, "fontWeight": "bold", "font": "Lato", "align": "center", "baseline": "middle"},
 "encoding": {"x": {"field": "t", "timeUnit": "utcyearmonth", "type": "temporal"}, "y": {"field": "v", "type": "quantitative"}, "text": {"field": "l"}}},
{"data": {"name": "debil"}, "mark": {"type": "text", "color": "#2e9e78", "fontSize": 10, "fontWeight": "bold", "font": "Lato", "align": "center", "baseline": "middle"},
 "encoding": {"x": {"field": "t", "timeUnit": "utcyearmonth", "type": "temporal"}, "y": {"field": "v", "type": "quantitative"}, "text": {"field": "l"}}}
]
}
